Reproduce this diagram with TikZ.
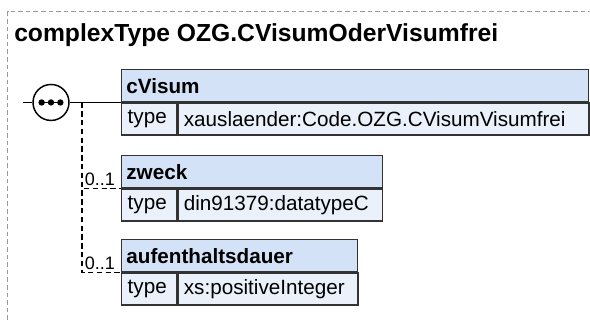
\documentclass[tikz,border=0pt]{standalone}
\usepackage{fontspec}
\setmainfont{Liberation Sans}
\usepackage{xcolor}
\usetikzlibrary{positioning}

\definecolor{headfill}{HTML}{D4E2F7}
\definecolor{rowfill}{HTML}{EBF1FB}
\definecolor{framegray}{HTML}{999999}
\definecolor{edgegray}{HTML}{333333}

\begin{document}
\begin{tikzpicture}[
  x=0.75pt,
  y=-0.75pt,
  frame/.style={draw=framegray, line width=0.8pt, dash pattern=on 3.5pt off 2.2pt},
  head/.style={draw=edgegray, fill=headfill, line width=1.1pt, anchor=north west, minimum height=24pt,
    inner xsep=3.5pt, inner ysep=2pt, align=left, font=\fontsize{15.5}{18}\selectfont\bfseries},
  key/.style={draw=edgegray, fill=rowfill, line width=1.1pt, anchor=north west, minimum height=24pt,
    inner xsep=4.5pt, inner ysep=2pt, text width=32pt, align=left, font=\fontsize{15.5}{18}\selectfont},
  val/.style={draw=edgegray, fill=rowfill, line width=1.1pt, anchor=north west, minimum height=24pt,
    inner xsep=4.5pt, inner ysep=2pt, align=left, font=\fontsize{15.5}{18}\selectfont},
  link/.style={draw=black, line width=1.1pt},
  optional/.style={draw=black, line width=1.1pt, dash pattern=on 4pt off 2.6pt},
  card/.style={font=\fontsize{13.5}{15}\selectfont, inner sep=0.5pt, anchor=south west}
]
  \useasboundingbox (0,0) rectangle (590,320);
  \draw[frame] (7.5,320) -- (7.5,11.5) -- (590,11.5);
  \node[anchor=base west, inner sep=0pt, font=\fontsize{18.5}{22}\selectfont\bfseries] (title) at (14,42)
    {complexType OZG.CVisumOderVisumfrei};

  % elements
  \node[head, text width=343pt] (cvisum) at (121,69) {cVisum};
  \node[key] (cvisumtype) at (cvisum.south west) {type};
  \node[val, text width=299.5pt] (cvisumval) at (cvisumtype.north east) {xauslaender:Code.OZG.CVisumVisumfrei};

  \node[head, text width=188.5pt] (zweck) at (121,155) {zweck};
  \node[key] (zwecktype) at (zweck.south west) {type};
  \node[val, text width=144.5pt] (zweckval) at (zwecktype.north east) {din91379:datatypeC};

  \node[head, text width=170pt] (dauer) at (121,239) {aufenthaltsdauer};
  \node[key] (dauertype) at (dauer.south west) {type};
  \node[val, text width=126pt] (dauerval) at (dauertype.north east) {xs:positiveInteger};

  % sequence compositor
  \coordinate (start) at (23,0 |- cvisum.south);
  \node[circle, draw=black, fill=white, line width=1.1pt, minimum size=27pt, inner sep=0pt] (seq)
    at (51,0 |- cvisum.south) {};
  \draw[line width=1.1pt] ([xshift=-7pt]seq.center) -- ([xshift=7pt]seq.center);
  \fill ([xshift=-7pt]seq.center) circle (3.2) (seq.center) circle (3.2) ([xshift=7pt]seq.center) circle (3.2);

  % connectors
  \coordinate (branch) at (82,0 |- cvisum.south);
  \draw[link] (start) -- (seq.west);
  \draw[link] (seq.east) -- (cvisum.south west);
  \draw[optional] (branch) |- (zweck.south west);
  \draw[optional] (branch) |- (dauer.south west);
  \node[card] (zweckcard) at ([xshift=1.5pt,yshift=1.5pt]branch |- zweck.south) {0..1};
  \node[card] (dauercard) at ([xshift=1.5pt,yshift=1.5pt]branch |- dauer.south) {0..1};
\end{tikzpicture}
\end{document}
